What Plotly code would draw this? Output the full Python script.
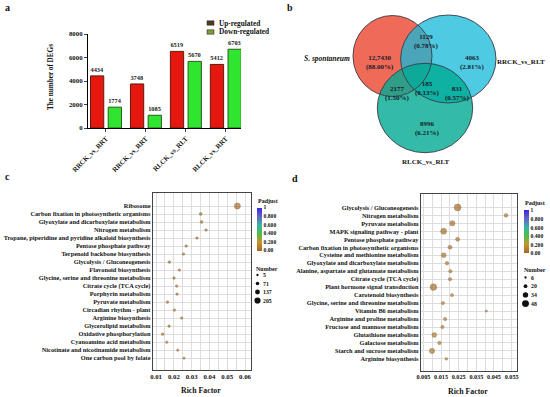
import plotly.graph_objects as go

W, H = 550, 397
def px(x): return x / W
def py(y): return 1 - y / H

FONT = "Liberation Serif, Times New Roman, serif"

# ---------------- Panel a data ----------------
bar_groups = ["RRCK_vs_RRT", "RRCK_vs_RRT", "RLCK_vs_RLT", "RLCK_vs_RRT"]
up_regulated = [4434, 3748, 6519, 5412]
down_regulated = [1774, 1085, 5670, 6703]
a_yticks = [0, 2000, 4000, 6000, 8000]

# ---------------- Panel b data ----------------
venn_sets = ["S. spontaneum", "RRCK_vs_RLT", "RLCK_vs_RLT"]
venn_counts = {"only_S": "12,7430", "S_RR": "1129", "only_RR": "4063",
               "all": "185", "S_RL": "2177", "RR_RL": "831", "only_RL": "8996"}
venn_pcts = {"only_S": "88.00%", "S_RR": "0.78%", "only_RR": "2.81%",
             "all": "0.13%", "S_RL": "1.50%", "RR_RL": "0.57%", "only_RL": "6.21%"}

# ---------------- Panel c data ----------------
c_terms = ["Ribosome", "Carbon fixation in photosynthetic organisms",
           "Glyoxylate and dicarboxylate metabolism", "Nitrogen metabolism",
           "Tropane, piperidine and pyridine alkaloid biosynthesis",
           "Pentose phosphate pathway", "Terpenoid backbone biosynthesis",
           "Glycolysis / Gluconeogenesis", "Flavonoid biosynthesis",
           "Glycine, serine and threonine metabolism", "Citrate cycle (TCA cycle)",
           "Porphyrin metabolism", "Pyruvate metabolism", "Circadian rhythm - plant",
           "Arginine biosynthesis", "Glycerolipid metabolism",
           "Oxidative phosphorylation", "Cyanoamino acid metabolism",
           "Nicotinate and nicotinamide metabolism", "One carbon pool by folate"]
c_rich = [0.0557, 0.0351, 0.0356, 0.0381, 0.0330, 0.0269, 0.0254, 0.0175, 0.0231,
          0.0201, 0.0216, 0.0218, 0.0164, 0.0203, 0.0244, 0.0173, 0.0137, 0.0160,
          0.0222, 0.0257]
c_number = [205, 38, 35, 20, 18, 22, 20, 32, 18, 20, 20, 18, 28, 17, 15, 20, 30, 15, 10, 9]
c_padj = [0.0, 0.02, 0.02, 0.04, 0.05, 0.05, 0.05, 0.04, 0.06, 0.06, 0.06, 0.06,
          0.06, 0.07, 0.07, 0.07, 0.07, 0.08, 0.08, 0.08]
c_num_legend = [5, 71, 137, 205]

# ---------------- Panel d data ----------------
d_terms = ["Glycolysis / Gluconeogenesis", "Nitrogen metabolism", "Pyruvate metabolism",
           "MAPK signaling pathway - plant", "Pentose phosphate pathway",
           "Carbon fixation in photosynthetic organisms",
           "Cysteine and methionine metabolism", "Glyoxylate and dicarboxylate metabolism",
           "Alanine, aspartate and glutamate metabolism", "Citrate cycle (TCA cycle)",
           "Plant hormone signal transduction", "Carotenoid biosynthesis",
           "Glycine, serine and threonine metabolism", "Vitamin B6 metabolism",
           "Arginine and proline metabolism", "Fructose and mannose metabolism",
           "Glutathione metabolism", "Galactose metabolism",
           "Starch and sucrose metabolism", "Arginine biosynthesis"]
d_rich = [0.0244, 0.0518, 0.0214, 0.0165, 0.0244, 0.0201, 0.0165, 0.0184, 0.0203,
          0.0201, 0.0107, 0.0212, 0.0161, 0.0407, 0.0173, 0.0158, 0.0112, 0.0141,
          0.0099, 0.0180]
d_number = [48, 20, 34, 40, 22, 22, 30, 18, 16, 16, 45, 15, 16, 6, 16, 16, 30, 18, 33, 10]
d_padj = [0.0, 0.05, 0.02, 0.03, 0.05, 0.06, 0.05, 0.07, 0.07, 0.07, 0.04, 0.08,
          0.08, 0.1, 0.08, 0.08, 0.07, 0.08, 0.07, 0.1]
d_num_legend = [6, 20, 34, 48]

c_xticks = [0.01, 0.02, 0.03, 0.04, 0.05, 0.06]
d_xticks = [0.005, 0.015, 0.025, 0.035, 0.045, 0.055]

padj_ticks = [0, 0.2, 0.4, 0.6, 0.8, 1]
padj_ticktext = ["0.00", "0.200", "0.400", "0.600", "0.800", "1"]

def c_size(n): return 2.3 + 3.9 * (n - 5) / 200
def d_size(n): return 2.3 + 4.6 * (n - 6) / 42

colorscale = [[0, "#A46A26"], [0.2, "#C8922E"], [0.4, "#4CBE48"],
              [0.6, "#38B4A8"], [0.8, "#6464C4"], [1, "#3A28E0"]]

fig = go.Figure()

# Panel a bars
fig.add_trace(go.Bar(x=list(range(len(bar_groups))), y=up_regulated, name="Up-regulated",
                     marker=dict(color="#E6170E", line=dict(color="#5E1A0C", width=1)),
                     text=up_regulated, textposition="outside",
                     textfont=dict(size=6.8, color="#222"), cliponaxis=False,
                     xaxis="x", yaxis="y", showlegend=False))
fig.add_trace(go.Bar(x=list(range(len(bar_groups))), y=down_regulated, name="Down-regulated",
                     marker=dict(color="#2FE52F", line=dict(color="#2B5C1C", width=1)),
                     text=down_regulated, textposition="outside",
                     textfont=dict(size=6.8, color="#222"), cliponaxis=False,
                     xaxis="x", yaxis="y", showlegend=False))

# Panel c dots
fig.add_trace(go.Scatter(x=c_rich, y=c_terms, mode="markers",
                         marker=dict(size=[c_size(n) for n in c_number], color=c_padj,
                                     coloraxis="coloraxis",
                                     line=dict(width=0.4, color="rgba(90,55,20,0.9)")),
                         xaxis="x3", yaxis="y3", showlegend=False))
# Panel d dots
fig.add_trace(go.Scatter(x=d_rich, y=d_terms, mode="markers",
                         marker=dict(size=[d_size(n) for n in d_number], color=d_padj,
                                     coloraxis="coloraxis2",
                                     line=dict(width=0.4, color="rgba(90,55,20,0.9)")),
                         xaxis="x4", yaxis="y4", showlegend=False))

tickf = dict(family=FONT, size=6.8, color="#111", weight="bold")
dtickf = dict(family=FONT, size=6.2, color="#111", weight="bold")
catf = dict(family=FONT, size=6.3, color="#111", weight="bold")

def cbar(x0, ytop):
    return dict(x=px(x0), xanchor="left", y=py(ytop), yanchor="top",
                len=43, lenmode="pixels", thickness=4.5, thicknessmode="pixels",
                xpad=0, ypad=0, outlinewidth=0, tickvals=padj_ticks,
                ticktext=padj_ticktext, ticks="",
                tickfont=dict(family=FONT, size=5.6, color="#111", weight="bold"))

fig.update_layout(
    width=W, height=H, autosize=False,
    margin=dict(l=0, r=0, t=0, b=0, pad=0, autoexpand=False),
    paper_bgcolor="white", plot_bgcolor="rgba(0,0,0,0)",
    font=dict(family=FONT, color="#111", weight="bold"),
    barmode="group", bargap=0.114, bargroupgap=0.25,
    showlegend=False,
    xaxis=dict(domain=[px(88), px(241)], range=[-0.45, 3.38],
               tickvals=list(range(len(bar_groups))), ticktext=bar_groups,
               tickangle=-45, tickfont=tickf, ticks="outside", ticklen=3,
               tickwidth=1, showline=True, linecolor="black", linewidth=1.2,
               showgrid=False, zeroline=False, automargin=False, anchor="y"),
    yaxis=dict(domain=[py(128), py(34)], range=[0, 8000], tickvals=a_yticks,
               tickfont=tickf, ticks="outside", ticklen=3, tickwidth=1,
               showline=True, linecolor="black", linewidth=1.2, showgrid=False,
               zeroline=False, automargin=False, anchor="x"),
    xaxis3=dict(domain=[px(152.7), px(250.7)], range=[0.0081, 0.0632],
                tickmode="array", tickvals=c_xticks,
                ticktext=[f"{v:.2f}" for v in c_xticks], tickangle=0, tickfont=tickf,
                showline=True, mirror=True, linecolor="#444", linewidth=1,
                showgrid=True, gridcolor="#DDDDDD", gridwidth=0.6, zeroline=False,
                minor=dict(dtick=0.005, tick0=0, showgrid=True, gridcolor="#DDDDDD", gridwidth=0.6),
                ticks="", automargin=False, anchor="y3"),
    yaxis3=dict(domain=[py(370), py(193.3)], categoryorder="array", categoryarray=c_terms,
                tickmode="array", tickvals=c_terms, ticktext=c_terms,
                autorange="reversed", tickfont=catf,
                showline=True, mirror=True, linecolor="#444", linewidth=1,
                showgrid=True, gridcolor="#DDDDDD", gridwidth=0.6, ticks="",
                automargin=False, anchor="x3"),
    xaxis4=dict(domain=[px(420.7), px(517.3)], range=[0.0035, 0.0582],
                tickmode="array", tickvals=d_xticks,
                ticktext=[f"{v:.3f}" for v in d_xticks], tickangle=0, tickfont=dtickf,
                showline=True, mirror=True, linecolor="#444", linewidth=1,
                showgrid=True, gridcolor="#DDDDDD", gridwidth=0.6, zeroline=False,
                minor=dict(dtick=0.005, tick0=0, showgrid=True, gridcolor="#DDDDDD", gridwidth=0.6),
                ticks="", automargin=False, anchor="y4"),
    yaxis4=dict(domain=[py(370.7), py(194.3)], categoryorder="array", categoryarray=d_terms,
                tickmode="array", tickvals=d_terms, ticktext=d_terms,
                autorange="reversed", tickfont=catf,
                showline=True, mirror=True, linecolor="#444", linewidth=1,
                showgrid=True, gridcolor="#DDDDDD", gridwidth=0.6, ticks="",
                automargin=False, anchor="x4"),
    coloraxis=dict(colorscale=colorscale, cmin=0, cmax=1, colorbar=cbar(256.7, 207.5)),
    coloraxis2=dict(colorscale=colorscale, cmin=0, cmax=1, colorbar=cbar(524, 210.5)),
)

shapes = []
ann = []

def text(x, y, s, size=7, xanchor="center", yanchor="middle", **kw):
    color = kw.pop("color", "#111")
    ann.append(dict(x=px(x), y=py(y), xref="paper", yref="paper", text=s,
                    showarrow=False, xanchor=xanchor, yanchor=yanchor,
                    font=dict(family=FONT, size=size, color=color, weight="bold"), **kw))

# panel letters
text(3, 8, "a", size=10, xanchor="left")
text(285, 8, "b", size=10, xanchor="left")
text(3, 176, "c", size=10, xanchor="left")
text(290, 178, "d", size=10, xanchor="left")

# axis titles
text(51, 77, "The number of DEGs", size=7.2, textangle=-90)
text(201, 390, "Rich Factor", size=7.8)
text(468, 391, "Rich Factor", size=7.8)

# panel a legend
leg_items = [("Up-regulated", "#4E3A1E"), ("Down-regulated", "#7C9C34")]
for i, (lab, col) in enumerate(leg_items):
    yc = 23 + i * 9
    shapes.append(dict(type="rect", xref="paper", yref="paper", x0=px(207), x1=px(214),
                       y0=py(yc + 2.2), y1=py(yc - 2.2), fillcolor=col,
                       line=dict(color="#333", width=0.6)))
    text(217, yc, lab, size=7.3, xanchor="left")

# panel b venn
circles = [((392.5, 56), (39.5, 40.5), "#F06A58", 1.0),
           ((448.3, 59), (47.7, 44), "#13BAD8", 0.75),
           ((425, 108), (47.7, 44.7), "#00AA92", 0.8)]
for (cx, cy), (rx, ry), col, op in circles:
    shapes.append(dict(type="circle", xref="paper", yref="paper",
                       x0=px(cx - rx), x1=px(cx + rx), y0=py(cy + ry), y1=py(cy - ry),
                       fillcolor=col, opacity=op, line=dict(width=0), layer="above"))
for (cx, cy), (rx, ry), col, op in circles:
    shapes.append(dict(type="circle", xref="paper", yref="paper",
                       x0=px(cx - rx), x1=px(cx + rx), y0=py(cy + ry), y1=py(cy - ry),
                       fillcolor="rgba(0,0,0,0)", line=dict(color="#3a3a48", width=0.9),
                       layer="above"))
region_pos = {"only_S": (380, 63), "S_RR": (426, 42), "only_RR": (472, 63),
              "all": (427, 88), "S_RL": (397, 93), "RR_RL": (457, 93), "only_RL": (427, 128)}
for k, (x, y) in region_pos.items():
    text(x, y, f"{venn_counts[k]}<br>({venn_pcts[k]})", size=7, color="#1a1a2a")
text(352, 59, f"<i>{venn_sets[0]}</i>", size=7.5, xanchor="right")
text(547, 62, venn_sets[1], size=7, xanchor="right")
text(426, 162, venn_sets[2], size=7)

# Padjust titles and Number legends
def number_legend(x0, ytitle, nums, sizefn, ybase, step):
    text(x0, ytitle, "Number", size=6, xanchor="left")
    for i, n in enumerate(nums):
        yc = ybase + i * step
        d = sizefn(n)
        cx = x0 + 3.5
        shapes.append(dict(type="circle", xref="paper", yref="paper",
                           x0=px(cx - d / 2), x1=px(cx + d / 2),
                           y0=py(yc + d / 2), y1=py(yc - d / 2),
                           fillcolor="#111", line=dict(width=0)))
        text(x0 + 7, yc, str(n), size=5.8, xanchor="left")

text(256, 200.5, "Padjust", size=6, xanchor="left")
text(523, 202.5, "Padjust", size=6, xanchor="left")
number_legend(254, 268.5, c_num_legend, c_size, 275, 8.5)
number_legend(522, 270, d_num_legend, d_size, 277.5, 8.7)

fig.update_layout(shapes=shapes, annotations=ann)
fig.write_html("out.html", config={"displayModeBar": False},
               post_script="document.body.style.margin='0px';document.body.style.overflow='hidden';")
